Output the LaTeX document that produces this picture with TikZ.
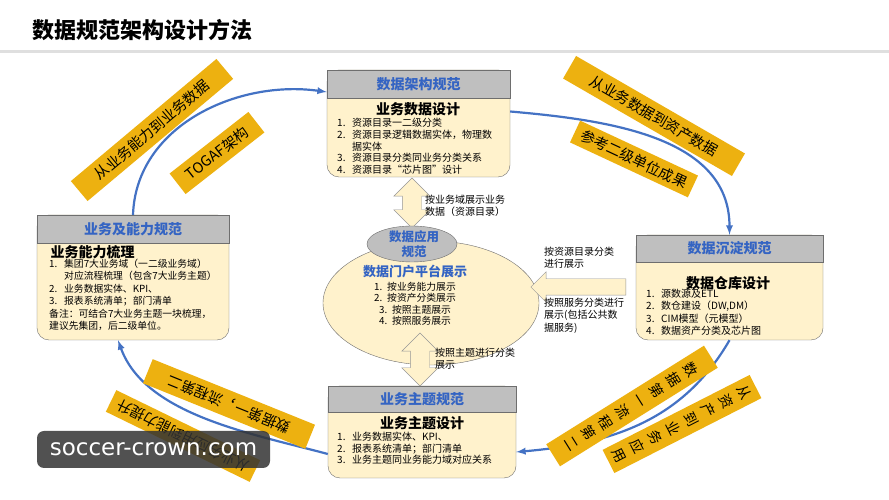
\documentclass[tikz,border=0pt]{standalone}
\usepackage{fontspec}
\setmainfont{Noto Sans CJK SC}
\newfontfamily\wmfont{DejaVu Sans}
\usetikzlibrary{positioning,shapes.geometric,shapes.arrows}
\definecolor{hdgray}{RGB}{191,191,191}
\definecolor{bodyyel}{RGB}{255,242,204}
\definecolor{hdblue}{RGB}{52,100,195}
\definecolor{bordgray}{RGB}{110,110,110}
\definecolor{flowblue}{RGB}{68,114,196}
\definecolor{taggold}{RGB}{237,177,16}
\definecolor{arrgray}{RGB}{150,150,150}
\newcommand{\itm}[1]{\makebox[15pt][l]{#1}}

\begin{document}
\begin{tikzpicture}[x=1pt,y=1pt]
        \tikzset{
            hd/.style={rectangle, draw=bordgray, fill=hdgray, text=hdblue, font=\fontsize{14}{16}\selectfont\bfseries},
            bd/.style={rectangle, rounded corners=12pt, draw=bordgray, fill=bodyyel},
            ttl/.style={font=\fontsize{14}{16}\selectfont\bfseries},
            lst/.style={anchor=north west, align=left, inner sep=0pt, font=\fontsize{10}{11.7}\selectfont},
            note/.style={anchor=north west, align=left, inner sep=0pt, font=\fontsize{10}{12.3}\selectfont},
            tag/.style={fill=taggold, inner sep=0pt, font=\fontsize{14.5}{17}\selectfont},
            vtag/.style={fill=taggold, inner sep=0pt, align=center, minimum width=26pt, font=\fontsize{14}{20}\selectfont},
            blk/.style={draw=arrgray, fill=bodyyel},
            fl/.style={-latex, draw=flowblue, line width=2.2pt}
            }

            \fill[white] (0,0) rectangle (889,500);
            \useasboundingbox (0,0) rectangle (889,500);
            \node[anchor=west, font=\fontsize{22}{24}\selectfont\bfseries] (title) at (29,470) {数据规范架构设计方法};
            \draw[gray!25, line width=3pt] (0,448) -- (889,448);

            \node[bd, minimum width=183pt, minimum height=107pt] (b1) at (418.5,376.5) {};
            \node[bd, minimum width=192pt, minimum height=125pt] (b2) at (133,222.5) {};
            \node[bd, minimum width=187pt, minimum height=105pt] (b3) at (729.5,212.5) {};
            \node[bd, minimum width=188pt, minimum height=92pt] (b4) at (422,68) {};
            \node[hd, minimum width=183pt, minimum height=28pt] (h1) at (418.5,416) {数据架构规范};
            \node[hd, minimum width=192pt, minimum height=28pt] (h2) at (133,271) {业务及能力规范};
            \node[hd, minimum width=187pt, minimum height=27pt] (h3) at (729.5,251.5) {数据沉淀规范};
            \node[hd, minimum width=188pt, minimum height=26pt] (h4) at (422,101) {业务主题规范};

            \draw[fl] (h2.north) to[out=88,in=172] ([yshift=-8pt]h1.west);
            \draw[fl] ([yshift=12pt]b1.east) to[out=-5,in=90] (h3.north);
            \draw[fl] (b3.south) to[out=-120,in=5] ([yshift=-20pt]b4.east);
            \draw[fl] ([yshift=-22pt]b4.west) to[out=165,in=-70,looseness=0.85] ([xshift=-15pt]b2.south);

            \node[ttl] (s1) at (418,391) {业务数据设计};
            \node[lst] (i1) at (337,382) {\itm{1.}资源目录一二级分类\\\itm{2.}资源目录逻辑数据实体，物理数\\\itm{}据实体\\\itm{3.}资源目录分类同业务分类关系\\\itm{4.}资源目录“芯片图”设计};
            \node[ttl, anchor=west] (s2) at (47,248) {业务能力梳理};
            \node[lst, font=\fontsize{9.8}{12.4}\selectfont] (i2) at (49,241) {\itm{1.}集团7大业务域（一二级业务域）\\\itm{}对应流程梳理（包含7大业务主题）\\\itm{2.}业务数据实体、KPI、\\\itm{3.}报表系统清单；部门清单\\备注：可结合7大业务主题一块梳理，\\建议先集团，后二级单位。};
            \node[ttl] (s3) at (728,217) {数据仓库设计};
            \node[lst, font=\fontsize{10}{12.3}\selectfont] (i3) at (646,211) {\itm{1.}源数源及ETL\\\itm{2.}数仓建设（DW,DM）\\\itm{3.}CIM模型（元模型）\\\itm{4.}数据资产分类及芯片图};
            \node[ttl] (s4) at (422,77) {业务主题设计};
            \node[lst, font=\fontsize{10}{11.6}\selectfont] (i4) at (337,68) {\itm{1.}业务数据实体、KPI、\\\itm{2.}报表系统清单；部门清单\\\itm{3.}业务主题同业务能力域对应关系};

            \node[ellipse, draw=bordgray, fill=bodyyel, minimum width=216pt, minimum height=124pt] (e1) at (431,197) {};
            \node[blk, double arrow, shape border rotate=90, inner sep=9.5pt, minimum height=50pt, double arrow head extend=8.5pt] (a1) at (412,297) {};
            \node[blk, double arrow, shape border rotate=90, inner sep=9.5pt, minimum height=53pt, double arrow head extend=8.5pt] (a2) at (420,140.5) {};
            \node[blk, single arrow, shape border rotate=180, inner sep=8pt, minimum height=95pt, single arrow head extend=7pt] (a3) at (582.5,213) {};
            \node[ellipse, draw=bordgray, fill=hdgray, minimum width=90pt, minimum height=36pt] (e2) at (412,256) {};
            \node[align=center, text=hdblue, font=\fontsize{12.5}{15}\selectfont\bfseries] (s5) at (414,255.5) {数据应用\\规范};
            \node[text=hdblue, font=\fontsize{13}{15}\selectfont\bfseries] (s6) at (415,229) {数据门户平台展示};
            \node[align=center, inner sep=0pt, font=\fontsize{9.8}{11.5}\selectfont] (i5) at (415,196) {1.\enspace 按业务能力展示\\2.\enspace 按资产分类展示\\3.\enspace 按照主题展示\\4.\enspace 按照服务展示};

            \node[note] (n1) at (425,305) {按业务域展示业务\\数据（资源目录）};
            \node[note] (n2) at (435,152) {按照主题进行分类\\展示};
            \node[note] (n3) at (544,253) {按资源目录分类\\进行展示};
            \node[note] (n4) at (544,202) {按照服务分类进行\\展示(包括公共数\\据服务)};

            \node[tag, rotate=40, minimum width=190pt, minimum height=26pt] (t1) at (152,370) {从业务能力到业务数据};
            \node[tag, rotate=38, minimum width=100pt, minimum height=26pt] (t2) at (217,347) {TOGAF架构};
            \node[tag, rotate=-30, minimum width=195pt, minimum height=26pt] (t3) at (654,384) {从业务数据到资产数据};
            \node[tag, rotate=-25, minimum width=130pt, minimum height=24pt] (t4) at (634,341) {参考二级单位成果};
            \node[tag, rotate=158, minimum width=175pt, minimum height=26pt] (t5) at (229,96) {数据第一，流程第二};
            \node[tag, rotate=154, minimum width=160pt, minimum height=24pt] (t6) at (183,64) {从业务应用到能力提升};
            \node[vtag, rotate=-58, minimum height=186pt] (t7) at (632,94) {数\\据\\第\\一\\流\\程\\第\\二};
            \node[vtag, rotate=-63, minimum height=165pt] (t8) at (682,76) {从\\资\\产\\到\\业\\务\\应\\用};

            \node[rounded corners=7pt, fill=black!80, fill opacity=.85, text opacity=1, text=white, minimum width=233pt, minimum height=37pt, font=\wmfont\fontsize{23}{25}\selectfont] (wm) at (153.5,50.5) {soccer-crown.com};
        \end{tikzpicture}
\end{document}
